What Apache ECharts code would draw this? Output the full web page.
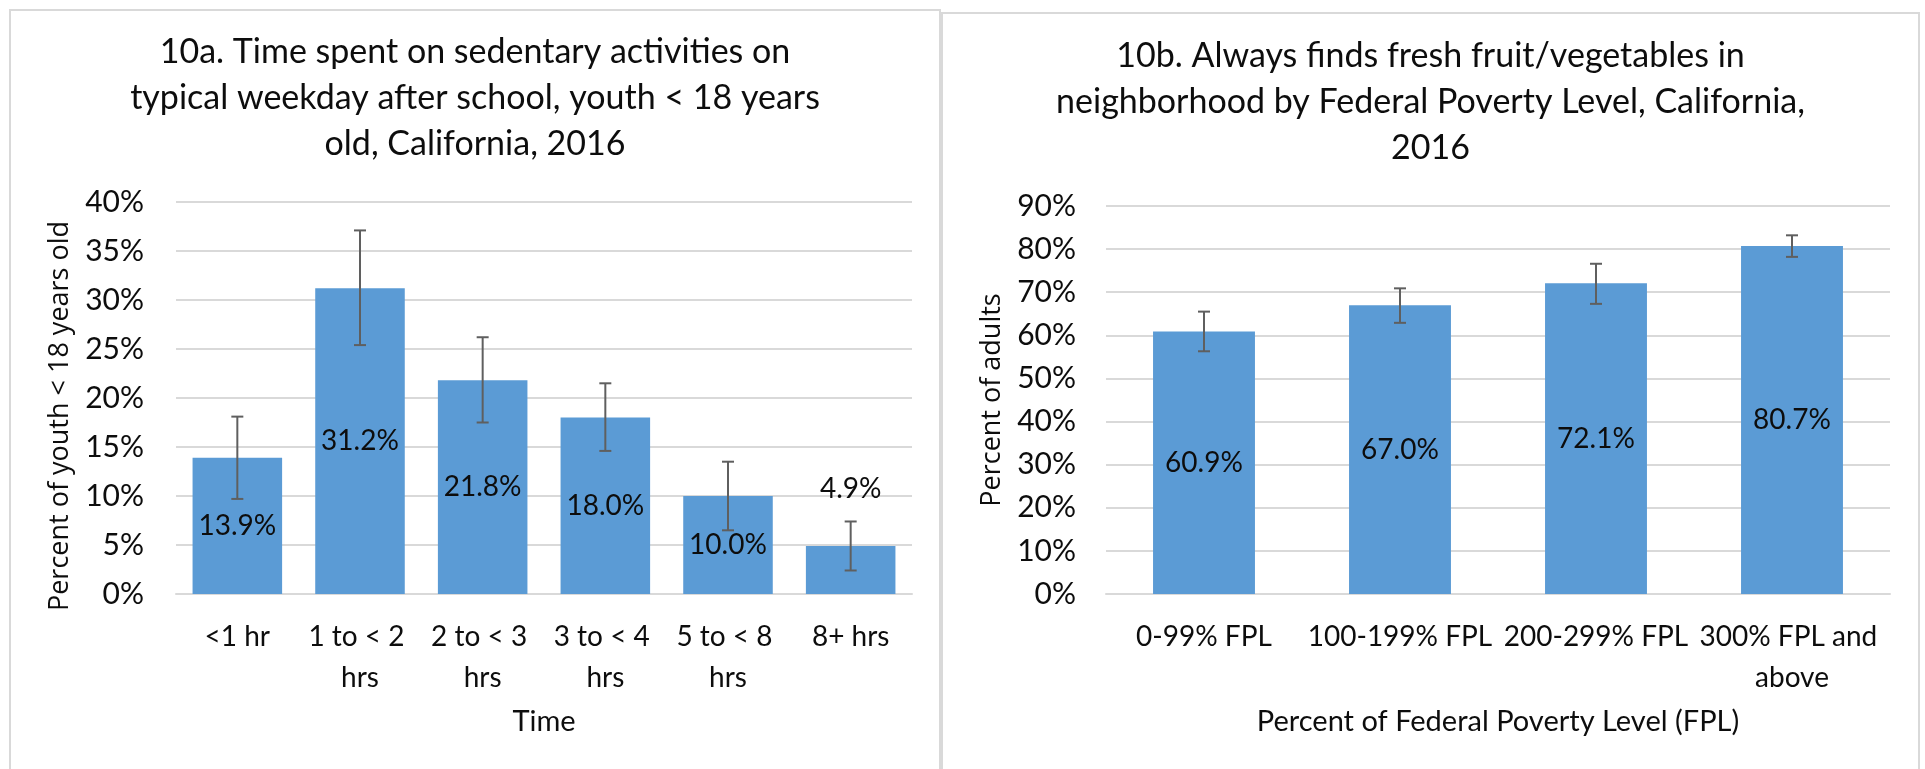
<!DOCTYPE html>
<html>
<head>
<meta charset="utf-8">
<script src="https://cdn.jsdelivr.net/npm/echarts@6.0.0/dist/echarts.min.js"></script>
<style>
  html, body { margin: 0; padding: 0; background: #fff; overflow: hidden; }
  body { width: 1925px; height: 769px; position: relative; }
  .panel { position: absolute; border: 2px solid #d9d9d9; box-sizing: border-box; }
  #chartA { left: 9px; top: 9px; width: 932px; height: 800px; }
  #chartB { left: 941px; top: 12px; width: 979px; height: 800px; }
</style>
</head>
<body>
<div id="chartA" class="panel"></div>
<div id="chartB" class="panel"></div>

<script>
// 10a data
const timeCategories = ['<1 hr', '1 to < 2 hrs', '2 to < 3 hrs', '3 to < 4 hrs', '5 to < 8 hrs', '8+ hrs'];
const timeValues = [13.9, 31.2, 21.8, 18.0, 10.0, 4.9];
const timeLow = [9.7, 25.4, 17.5, 14.6, 6.5, 2.4];
const timeHigh = [18.1, 37.1, 26.2, 21.5, 13.5, 7.4];

// 10b data
const fplCategories = ['0-99% FPL', '100-199% FPL', '200-299% FPL', '300% FPL and above'];
const fplValues = [60.9, 67.0, 72.1, 80.7];
const fplLow = [56.3, 62.9, 67.3, 78.2];
const fplHigh = [65.5, 70.9, 76.6, 83.2];

const FONT = 'Lato';
const TXT = '#0d0d0d';
const BAR = '#5b9bd5';

// draws the I-beam error bar
function errorBar(params, api) {
  const x = api.value(0);
  const top = api.coord([x, api.value(2)]);
  const bot = api.coord([x, api.value(1)]);
  const half = 6;
  const style = { stroke: '#5f5f5f', lineWidth: 2 };
  return {
    type: 'group',
    children: [
      { type: 'line', shape: { x1: top[0], y1: top[1], x2: bot[0], y2: bot[1] }, style: style },
      { type: 'line', shape: { x1: top[0] - half, y1: top[1], x2: top[0] + half, y2: top[1] }, style: style },
      { type: 'line', shape: { x1: bot[0] - half, y1: bot[1], x2: bot[0] + half, y2: bot[1] }, style: style }
    ]
  };
}

function makeChart(el, cfg) {
  const chart = echarts.init(document.getElementById(el));
  chart.setOption({
    animation: false,
    textStyle: { fontFamily: FONT },
    title: {
      text: cfg.title,
      left: 'center',
      top: cfg.titleTop,
      padding: 0,
      textStyle: { fontFamily: FONT, fontSize: 34, fontWeight: 'normal', color: TXT, lineHeight: 46, align: 'center' }
    },
    grid: cfg.grid,
    xAxis: {
      type: 'category',
      data: cfg.categories,
      axisLine: { show: true, lineStyle: { color: '#d9d9d9', width: 2 } },
      axisTick: { show: false },
      axisLabel: {
        fontFamily: FONT, fontSize: 28, color: TXT, margin: 22, lineHeight: 41,
        interval: 0, width: cfg.labelWidth, overflow: 'break', align: 'center'
      },
      name: cfg.xName,
      nameLocation: 'middle',
      nameGap: 113,
      nameTextStyle: { fontFamily: FONT, fontSize: 29, color: TXT }
    },
    yAxis: {
      type: 'value',
      min: 0,
      max: cfg.max,
      interval: cfg.step,
      axisLine: { show: false },
      axisTick: { show: false },
      splitLine: { lineStyle: { color: '#d9d9d9', width: 2 } },
      axisLabel: {
        fontFamily: FONT, fontSize: 30, color: TXT, margin: cfg.tickMargin,
        formatter: v => v + '%'
      },
      name: cfg.yName,
      nameLocation: 'middle',
      nameGap: cfg.yNameGap,
      nameTextStyle: { fontFamily: 'Open Sans', fontSize: 27, color: TXT, padding: cfg.yNamePad }
    },
    series: [
      {
        type: 'bar',
        data: cfg.values.map(v => v < 6
          ? { value: v, label: { position: 'top', distance: 43 } }
          : v),
        barCategoryGap: cfg.gap,
        itemStyle: { color: BAR },
        label: {
          show: true,
          position: 'inside',
          fontFamily: FONT, fontSize: 28, color: TXT,
          formatter: p => p.value.toFixed(1) + '%'
        }
      },
      {
        type: 'custom',
        renderItem: errorBar,
        data: cfg.low.map((l, i) => [i, l, cfg.high[i]]),
        encode: { x: 0, y: [1, 2] },
        z: 5,
        silent: true
      }
    ]
  });
  return chart;
}

makeChart('chartA', {
  title: '10a. Time spent on sedentary activities on\ntypical weekday after school, youth < 18 years\nold, California, 2016',
  titleTop: 18,
  grid: { left: 165, top: 191, width: 736, height: 392 },
  categories: timeCategories,
  values: timeValues,
  low: timeLow,
  high: timeHigh,
  max: 40,
  step: 5,
  gap: '27%',
  labelWidth: 118,
  tickMargin: 32,
  xName: 'Time',
  yName: 'Percent of youth < 18 years old',
  yNameGap: 98,
  yNamePad: [0, 36, 0, 0]
});

makeChart('chartB', {
  title: '10b. Always finds fresh fruit/vegetables in\nneighborhood by Federal Poverty Level, California,\n2016',
  titleTop: 19,
  grid: { left: 163, top: 192, width: 784, height: 388 },
  categories: fplCategories,
  values: fplValues,
  low: fplLow,
  high: fplHigh,
  max: 90,
  step: 10,
  gap: '48%',
  labelWidth: 200,
  tickMargin: 30,
  xName: 'Percent of Federal Poverty Level (FPL)',
  yName: 'Percent of adults',
  yNameGap: 96,
  yNamePad: [0, 0, 0, 0]
});
</script>
</body>
</html>
